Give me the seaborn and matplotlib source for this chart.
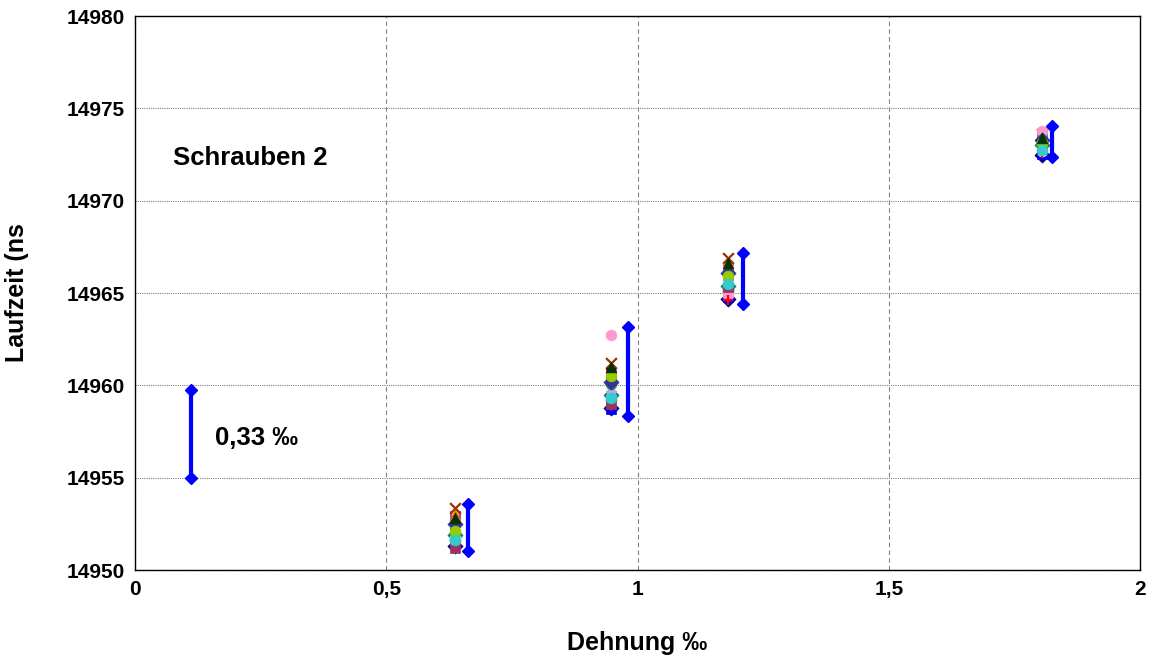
import matplotlib
matplotlib.use('Agg')
import matplotlib.pyplot as plt
import matplotlib.ticker as mticker
import seaborn as sns
import numpy as np
import pandas as pd

# strain levels (x) for the four measurement groups
dehnung = [0.637, 0.948, 1.18, 1.805]

# travel time per measurement series at each strain level
serien = {
    'S1':  [14951.3, 14958.8, 14964.7, 14972.5],
    'S2':  [14952.9, 14960.6, 14966.3, 14973.1],
    'S3':  [14953.1, 14959.9, 14966.7, 14973.4],
    'S4':  [14953.35, 14961.2, 14966.9, 14973.6],
    'S5':  [14952.4, 14960.3, 14965.8, 14972.9],
    'S6':  [14951.6, 14959.2, 14965.1, 14972.6],
    'S7':  [14952.2, 14960.9, 14966.2, 14972.8],
    'S8':  [14951.9, 14959.5, 14965.4, 14973.0],
    'S9':  [14951.4, 14958.7, 14964.8, 14972.55],
    'S10': [14952.6, 14959.7, 14965.6, 14973.2],
    'S11': [14951.8, 14959.1, 14965.0, 14972.7],
    'S12': [14952.0, 14960.1, 14965.2, 14973.3],
    'S13': [14952.7, 14960.4, 14966.0, 14973.5],
    'S14': [14951.5, 14962.7, 14964.9, 14973.8],
    'S15': [14952.3, 14959.4, 14965.7, 14972.65],
    'S16': [14953.0, 14960.7, 14966.5, 14973.0],
    'S17': [14951.7, 14958.9, 14964.6, 14972.6],
    'S18': [14952.5, 14960.2, 14966.1, 14973.3],
    'S19': [14951.2, 14959.0, 14965.3, 14972.8],
    'S20': [14952.1, 14960.5, 14965.9, 14973.1],
    'S21': [14952.8, 14961.0, 14966.6, 14973.4],
    'S22': [14951.6, 14959.3, 14965.5, 14972.75],
}

farben = ['#000080', '#FF00FF', '#FFFF00', '#993300', '#00CCFF', '#800080',
          '#800000', '#008080', '#0000FF', '#99CCFF', '#CCFFCC', '#339966',
          '#666699', '#FF99CC', '#CC99FF', '#FF6600', '#FF0000', '#333399',
          '#993366', '#99CC00', '#003300', '#33CCCC']
marker = ['D', 's', '^', 'x', '*', 'o', '+', 'D', 's', '^', 'o', 'o',
          's', 'o', 'v', '^', '+', 'D', 's', 'o', '^', 'o']

# range bars next to each group + scale bar
bar_x = [0.663, 0.981, 1.21, 1.825]
bar_lo = [14951.03, 14958.34, 14964.41, 14972.37]
bar_hi = [14953.55, 14963.15, 14967.15, 14974.05]
skala_x = 0.111
skala = [14955.0, 14959.75]

sns.set_style('white')
plt.rcParams['font.family'] = ['Liberation Sans', 'DejaVu Sans']
plt.rcParams['text.color'] = 'black'
plt.rcParams['axes.labelcolor'] = 'black'

fig = plt.figure(figsize=(11.67, 6.59), dpi=100)
ax = fig.add_axes([0.1157, 0.135, 0.8612, 0.8407])

for i, (name, werte) in enumerate(serien.items()):
    df = pd.DataFrame({'x': dehnung, 'y': werte})
    m = marker[i]
    if m in ('x', '+'):
        sns.scatterplot(data=df, x='x', y='y', ax=ax, marker=m, color=farben[i],
                        s=60, linewidth=1.6, zorder=3)
    else:
        sns.scatterplot(data=df, x='x', y='y', ax=ax, marker=m, color=farben[i],
                        s=60, edgecolor=farben[i], linewidth=0.5, zorder=3)

for bx, lo, hi in zip(bar_x, bar_lo, bar_hi):
    ax.plot([bx, bx], [lo, hi], color='#0000FF', lw=3, marker='D', ms=6, zorder=4)
ax.plot([skala_x, skala_x], skala, color='#0000FF', lw=3, marker='D', ms=6, zorder=4)

ax.text(0.076, 14972.3, 'Schrauben 2', fontsize=18.5, fontweight='bold', va='center')
ax.text(0.159, 14957.15, '0,33 ‰', fontsize=18.5, fontweight='bold', va='center')

ax.set_xlim(0, 2)
ax.set_ylim(14950, 14980)
ax.set_xticks([0, 0.5, 1, 1.5, 2])
ax.set_yticks(np.arange(14950, 14981, 5))
ax.xaxis.set_major_formatter(mticker.FuncFormatter(lambda v, p: ('%g' % v).replace('.', ',')))
ax.tick_params(labelsize=15, length=4, direction='out', colors='black')
for lbl in ax.get_xticklabels() + ax.get_yticklabels():
    lbl.set_fontweight('bold')

ax.xaxis.grid(True, color='#808080', linestyle=(0, (4, 3)), lw=0.8)
ax.yaxis.grid(True, color='#808080', linestyle=(0, (1, 1)), lw=0.8)
for s in ax.spines.values():
    s.set_color('black')
    s.set_linewidth(1)

ax.set_xlabel('Dehnung ‰', fontsize=18, fontweight='bold', labelpad=23)
ax.set_ylabel('Laufzeit (ns', fontsize=18, fontweight='bold', labelpad=27)

fig.savefig('out.png', dpi=100)
